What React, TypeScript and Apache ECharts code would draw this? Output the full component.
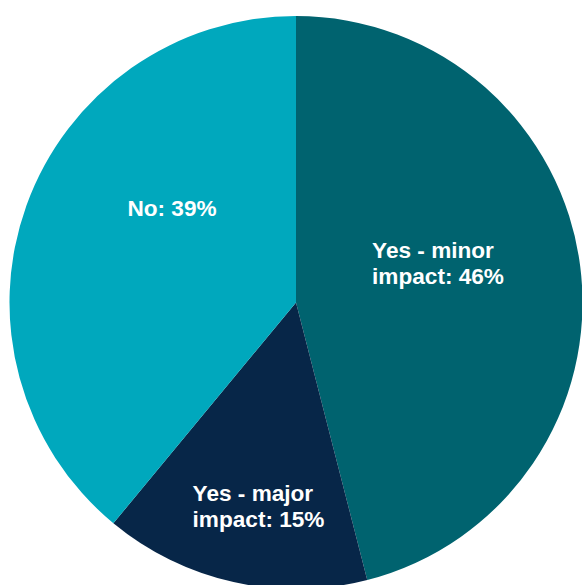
import React, { useEffect, useRef } from "react";
import * as echarts from "echarts";

const categories = ["Yes - minor impact", "Yes - major impact", "No"];
const values = [46, 15, 39];
const colors = ["#00636F", "#072648", "#00A8BD"];
// label shifts from the default inside position (px)
const labelShifts: [number, number][] = [
  [-69, -21],
  [-71.5, 61],
  [-31, -44],
];

export default function App() {
  const ref = useRef<HTMLDivElement>(null);
  useEffect(() => {
    if (!ref.current) return;
    const chart = echarts.init(ref.current, undefined, { renderer: "svg" });
    chart.setOption({
      animation: false,
      backgroundColor: "#ffffff",
      series: [
        {
          type: "pie",
          center: [296, 302.5],
          radius: 286.5,
          startAngle: 90,
          clockwise: true,
          avoidLabelOverlap: false,
          label: {
            show: true,
            position: "inside",
            color: "#ffffff",
            fontFamily: "Liberation Sans, Arial, sans-serif",
            fontWeight: "bold",
            fontSize: 22.6,
            lineHeight: 26,
            formatter: (p: any) => {
              const name: string = p.name;
              if (name === "No") return `No: ${p.value}%`;
              const parts = name.split(" impact");
              return `${parts[0]}\nimpact: ${p.value}%`;
            },
          },
          labelLine: { show: false },
          labelLayout: (p: any) => ({
            align: "left",
            verticalAlign: "middle",
            dx: labelShifts[p.dataIndex][0],
            dy: labelShifts[p.dataIndex][1],
          }),
          itemStyle: { borderWidth: 0 },
          emphasis: { disabled: true },
          data: categories.map((c, i) => ({
            name: c,
            value: values[i],
            itemStyle: { color: colors[i] },
          })),
        },
      ],
    });
    return () => chart.dispose();
  }, []);
  return (
    <div
      ref={ref}
      style={{ position: "fixed", left: 0, top: 0, width: 582, height: 585 }}
    />
  );
}
